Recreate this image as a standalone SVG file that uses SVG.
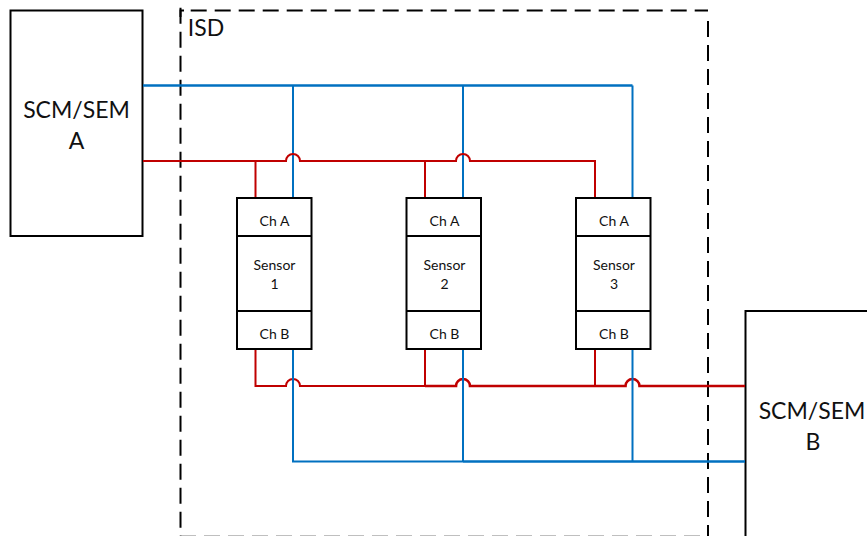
<svg xmlns="http://www.w3.org/2000/svg" width="867" height="536" viewBox="0 0 867 536">
<style>
.box{fill:#fff;stroke:#000;stroke-width:2}
.dash{fill:none;stroke:#000;stroke-width:2;stroke-dasharray:16 8}
.red{fill:none;stroke:#c00000;stroke-width:2}
.blue{fill:none;stroke:#0070c0;stroke-width:2}
.thick{stroke-width:2.6}
.big{font:23px Lato,"Liberation Sans",sans-serif;fill:#111;text-anchor:middle}
.small{font:14px Lato,"Liberation Sans",sans-serif;fill:#111;text-anchor:middle}
</style>
<rect width="867" height="536" fill="#fff"/>
<g id="isd">
<path class="dash" d="M190.700 10.500H708"/>
<path class="dash" d="M708 21V536"/>
<path class="dash" d="M180.500 7.700V536" stroke-dashoffset="0"/>
<path class="dash" d="M180 536.700H708"/>
<path d="M180.500 17V10.500H184" fill="none" stroke="#000" stroke-width="2"/>
<text class="big" x="206" y="36">ISD</text></g>
<g id="scm-a"><rect class="box" x="10.500" y="10.500" width="132" height="225.500"/><text class="big" x="76.500" y="118">SCM/SEM</text><text class="big" x="76.500" y="149">A</text></g>
<g id="scm-b"><rect class="box" x="745.500" y="311" width="140" height="240"/><text class="big" x="812" y="419">SCM/SEM</text><text class="big" x="813" y="450">B</text></g>
<g id="connectors">
<path class="blue thick" d="M143 85.500H632.500"/>
<path class="blue" d="M632.500 85.500V198M293 85.500V198M463 85.500V198"/>
<path class="red" d="M143 161H286A7 7 0 0 1 300 161H456A7 7 0 0 1 470 161H595V198M255.500 161V198M425 161V198"/>
<path class="red" d="M255.500 349V386H286A7 7 0 0 1 300 386H425M425 349V386M595 349V386"/>
<path class="red thick" d="M425 386H456A7 7 0 0 1 470 386H625.500A7 7 0 0 1 639.500 386H745"/>
<path class="blue" d="M293 349V461.500H463M463 349V461.500M632.500 349V461.500"/>
<path class="blue thick" d="M463 461.500H745"/>
</g>
<g id="sensor-1"><rect class="box" x="237" y="198" width="74.500" height="151"/><path class="box" d="M237 236H311.500M237 311H311.500"/><text class="small" x="274.500" y="226">Ch A</text><text class="small" x="274.500" y="270">Sensor</text><text class="small" x="274.500" y="289">1</text><text class="small" x="274.500" y="339">Ch B</text></g>
<g id="sensor-2"><rect class="box" x="406.500" y="198" width="74.500" height="151"/><path class="box" d="M406.500 236H481M406.500 311H481"/><text class="small" x="444.500" y="226">Ch A</text><text class="small" x="444.500" y="270">Sensor</text><text class="small" x="444.500" y="289">2</text><text class="small" x="444.500" y="339">Ch B</text></g>
<g id="sensor-3"><rect class="box" x="576" y="198" width="74.500" height="151"/><path class="box" d="M576 236H650.500M576 311H650.500"/><text class="small" x="614" y="226">Ch A</text><text class="small" x="614" y="270">Sensor</text><text class="small" x="614" y="289">3</text><text class="small" x="614" y="339">Ch B</text></g>
</svg>
